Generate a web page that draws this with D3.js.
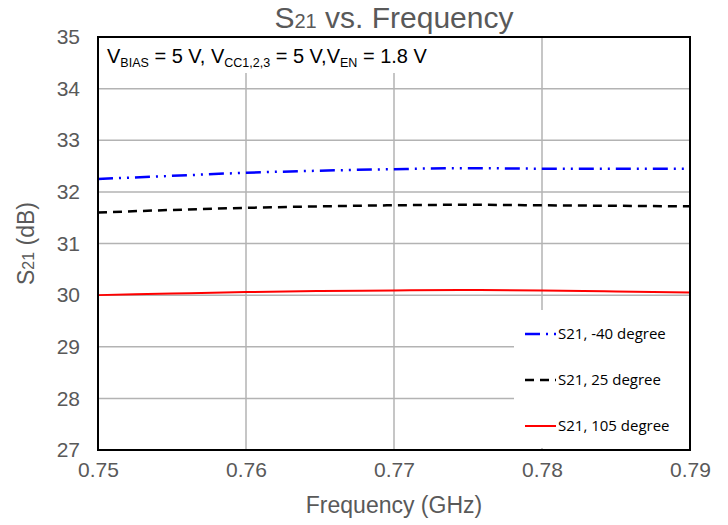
<!DOCTYPE html>
<html>
<head>
<meta charset="utf-8">
<script src="https://cdn.jsdelivr.net/npm/d3@7"></script>
<style>
  body { margin: 0; background: #fff; }
  text { font-family: "Liberation Sans", Arial, sans-serif; }
</style>
</head>
<body>
<script>
let freq = [0.75, 0.755, 0.76, 0.765, 0.77, 0.775, 0.78, 0.785, 0.79];
let s21Minus40 = [32.25, 32.31, 32.37, 32.41, 32.44, 32.46, 32.45, 32.45, 32.45];
let s21Plus25 = [31.60, 31.65, 31.69, 31.72, 31.74, 31.75, 31.74, 31.73, 31.72];
let s21Plus105 = [30.00, 30.03, 30.06, 30.08, 30.09, 30.10, 30.09, 30.07, 30.05];
let xTicks = [0.75, 0.76, 0.77, 0.78, 0.79];
let yTicks = [27, 28, 29, 30, 31, 32, 33, 34, 35];
let seriesNames = ["S21, -40 degree", "S21, 25 degree", "S21, 105 degree"];

let svgWidth = 728,
    svgHeight = 525,
    margin = { top: 37, right: 38, bottom: 75, left: 98 },
    plotWidth = svgWidth - margin.left - margin.right,
    plotHeight = svgHeight - margin.top - margin.bottom;

let series = [
    { name: seriesNames[0], values: s21Minus40, color: "#0000ff", dash: "15,6,2,6,2,6", width: 2.5 },
    { name: seriesNames[1], values: s21Plus25, color: "#000000", dash: "9,6", width: 2.5 },
    { name: seriesNames[2], values: s21Plus105, color: "#ff0000", dash: null, width: 2 }
];

let svg = d3.select("body").append("svg")
    .attr("width", svgWidth)
    .attr("height", svgHeight);

let x = d3.scaleLinear().domain([0.75, 0.79]).range([0, plotWidth]);
let y = d3.scaleLinear().domain([27, 35]).range([plotHeight, 0]);

let g = svg.append("g")
    .attr("transform", "translate(" + margin.left + "," + margin.top + ")");

// grid
g.append("g")
    .selectAll("line.hgrid")
    .data(yTicks)
    .join("line")
    .attr("x1", 0).attr("x2", plotWidth)
    .attr("y1", d => y(d)).attr("y2", d => y(d))
    .attr("stroke", "#b3b3b3").attr("stroke-width", 1.5);

g.append("g")
    .selectAll("line.vgrid")
    .data(xTicks.slice(1, -1))
    .join("line")
    .attr("x1", d => x(d)).attr("x2", d => x(d))
    .attr("y1", 0).attr("y2", plotHeight)
    .attr("stroke", "#b3b3b3").attr("stroke-width", 1.5);

// annotation background
g.append("rect")
    .attr("x", 0).attr("y", 0)
    .attr("width", 345).attr("height", 36)
    .attr("fill", "#fff");

let line = d3.line()
    .x((d, i) => x(freq[i]))
    .y(d => y(d))
    .curve(d3.curveMonotoneX);

series.forEach(s => {
    g.append("path")
        .datum(s.values)
        .attr("d", line)
        .attr("fill", "none")
        .attr("stroke", s.color)
        .attr("stroke-width", s.width)
        .attr("stroke-dasharray", s.dash);
});

// legend
let legend = g.append("g")
    .attr("transform", "translate(" + (plotWidth - 176) + "," + (plotHeight - 140) + ")");

legend.append("rect")
    .attr("width", 176).attr("height", 138)
    .attr("fill", "#fff");

series.forEach((s, i) => {
    let ly = 24 + i * 46;
    legend.append("line")
        .attr("x1", 11).attr("x2", 42)
        .attr("y1", ly).attr("y2", ly)
        .attr("stroke", s.color)
        .attr("stroke-width", s.width)
        .attr("stroke-dasharray", s.dash);
    legend.append("text")
        .attr("x", 44).attr("y", ly + 5)
        .attr("font-size", 15)
        .style("font-family", "'Open Sans', sans-serif")
        .attr("fill", "#000")
        .text(s.name);
});

// border
g.append("rect")
    .attr("width", plotWidth).attr("height", plotHeight)
    .attr("fill", "none")
    .attr("stroke", "#000").attr("stroke-width", 2);

// axes
let xAxis = d3.axisBottom(x).tickValues(xTicks).tickSize(0).tickPadding(12)
    .tickFormat(d3.format(".2f"));
let yAxis = d3.axisLeft(y).tickValues(yTicks).tickSize(0).tickPadding(18);

let xg = g.append("g").attr("transform", "translate(0," + plotHeight + ")").call(xAxis);
let yg = g.append("g").call(yAxis);
[xg, yg].forEach(a => {
    a.select(".domain").remove();
    a.selectAll("text").attr("font-size", 21).attr("fill", "#595959")
        .style("font-family", "'Liberation Sans', Arial, sans-serif");
});

// annotation text
let ann = g.append("text")
    .attr("x", 9).attr("y", 26)
    .attr("font-size", 20)
    .attr("fill", "#000");
ann.append("tspan").text("V");
ann.append("tspan").attr("font-size", 12.5).attr("dy", 4).text("BIAS");
ann.append("tspan").attr("dy", -4).text(" = 5 V, V");
ann.append("tspan").attr("font-size", 12.5).attr("dy", 4).text("CC1,2,3");
ann.append("tspan").attr("dy", -4).text(" = 5 V,V");
ann.append("tspan").attr("font-size", 12.5).attr("dy", 4).text("EN");
ann.append("tspan").attr("dy", -4).text(" = 1.8 V");

// title
let title = svg.append("text")
    .attr("x", margin.left + plotWidth / 2).attr("y", 28)
    .attr("text-anchor", "middle")
    .attr("font-size", 30)
    .attr("fill", "#595959");
title.append("tspan").text("S");
title.append("tspan").attr("font-size", 20).text("21");
title.append("tspan").text(" vs. Frequency");

// x title
svg.append("text")
    .attr("x", margin.left + plotWidth / 2).attr("y", 513)
    .attr("text-anchor", "middle")
    .attr("font-size", 23)
    .attr("fill", "#595959")
    .text("Frequency (GHz)");

// y title
let yt = svg.append("text")
    .attr("transform", "translate(34," + (margin.top + plotHeight / 2) + ") rotate(-90)")
    .attr("text-anchor", "middle")
    .attr("font-size", 23)
    .attr("fill", "#595959");
yt.append("tspan").text("S");
yt.append("tspan").attr("font-size", 16).text("21");
yt.append("tspan").text(" (dB)");
</script>
</body>
</html>
